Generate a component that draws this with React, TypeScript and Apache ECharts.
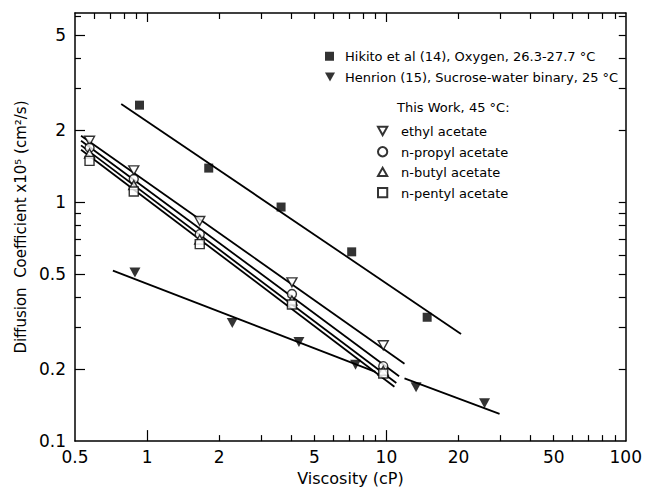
import React, { useEffect, useRef } from "react";
import * as echarts from "echarts";

// Axis ticks / labels
const xLabelValues = [0.5, 1, 2, 5, 10, 20, 50, 100];
const xBottomMinorTicks = [2, 3, 4, 5, 6, 7, 8, 9, 20, 30, 40, 50, 60, 70, 80, 90];
const xTopMinorTicks = [0.6, 0.7, 0.8, 0.9, 2, 3, 4, 5, 6, 7, 8, 9, 20, 30, 40, 50, 60, 70, 80, 90];
const xMajorTicks = [1, 10];
const yLabelValues = [0.1, 0.2, 0.5, 1, 2, 5];
const yMinorTicks = [0.3, 0.4, 0.6, 0.7, 0.8, 0.9, 3, 4, 6];
const yMajorTicks = [0.2, 0.5, 1, 2, 5];
const yRightTicks = [0.2, 0.3, 0.4, 0.5, 0.6, 0.7, 0.8, 0.9, 1, 2, 3, 4, 5, 6];

// Hikito et al (14), Oxygen
const hikitoX = [0.93, 1.81, 3.63, 7.16, 14.8];
const hikitoY = [2.55, 1.39, 0.955, 0.62, 0.33];
const hikitoFitX = [0.78, 20.5];
const hikitoFitY = [2.58, 0.281];

// Henrion (15), Sucrose-water binary
const henrionX = [0.89, 2.27, 4.31, 7.43, 13.3, 25.7];
const henrionY = [0.508, 0.312, 0.26, 0.209, 0.168, 0.144];
const henrionFit1X = [0.72, 9.0];
const henrionFit1Y = [0.517, 0.195];
const henrionFit2X = [11.9, 29.7];
const henrionFit2Y = [0.183, 0.13];

// This work, 45 °C
const acetateX = [0.575, 0.88, 1.66, 4.03, 9.7];
const ethylY = [1.81, 1.36, 0.835, 0.462, 0.252];
const propylY = [1.69, 1.25, 0.735, 0.413, 0.206];
const butylY = [1.6, 1.18, 0.698, 0.388, 0.197];
const pentylY = [1.49, 1.11, 0.668, 0.373, 0.192];
const ethylFitX = [0.53, 11.9];
const ethylFitY = [1.9, 0.211];
const propylFitX = [0.53, 11.3];
const propylFitY = [1.81, 0.187];
const butylFitX = [0.53, 11.0];
const butylFitY = [1.73, 0.175];
const pentylFitX = [0.53, 10.8];
const pentylFitY = [1.66, 0.169];

const NAMES = {
  hikito: "Hikito et al (14), Oxygen, 26.3-27.7 °C",
  henrion: "Henrion (15), Sucrose-water binary, 25 °C",
  ethyl: "ethyl acetate",
  propyl: "n-propyl acetate",
  butyl: "n-butyl acetate",
  pentyl: "n-pentyl acetate",
};

const DOWN_TRI = "path://M0,0L10,0L5,9Z";
const FONT = "DejaVu Sans";

const X_MIN = 0.5;
const X_MAX = 100;
const Y_MIN = 0.1;
const Y_MAX = 6.2;

const zip = (xs: number[], ys: number[]) => xs.map((x, i) => [x, ys[i]]);
const lg = (vs: number[]) => vs.map((v) => Math.log10(v));

export default function App() {
  const ref = useRef<HTMLDivElement>(null);
  useEffect(() => {
    if (!ref.current) return;
    const chart = echarts.init(ref.current, undefined, { renderer: "svg" });
    const lineSeries = (xs: number[], ys: number[]) => ({
      type: "line",
      data: zip(xs, ys),
      symbol: "none",
      lineStyle: { color: "#000", width: 1.8 },
      silent: true,
      z: 2,
    });
    const open = { color: "#fff", borderColor: "#000", borderWidth: 1.4 };
    const filled = { color: "#000", borderColor: "#000", borderWidth: 0 };
    const scatter = (name: string, xs: number[], ys: number[], symbol: string, size: any, style: any) => ({
      type: "scatter",
      name,
      data: zip(xs, ys),
      symbol,
      symbolSize: size,
      itemStyle: style,
      z: 3,
    });
    const tickStyle = { color: "#000", width: 1.2 };
    const lineStyle = { color: "#000", width: 1.5 };
    // overlay value axes in log10 space used only for tick marks
    const tickX = (position: string, values: number[], length: number, line: boolean) => ({
      type: "value",
      min: Math.log10(X_MIN),
      max: Math.log10(X_MAX),
      position,
      splitLine: { show: false },
      axisLine: { show: line, onZero: false, lineStyle },
      axisTick: { show: true, inside: true, length, customValues: lg(values), lineStyle: tickStyle },
      axisLabel: { show: false },
    });
    const tickY = (position: string, values: number[], length: number, line: boolean) => ({
      type: "value",
      min: Math.log10(Y_MIN),
      max: Math.log10(Y_MAX),
      position,
      splitLine: { show: false },
      axisLine: { show: line, onZero: false, lineStyle },
      axisTick: { show: true, inside: true, length, customValues: lg(values), lineStyle: tickStyle },
      axisLabel: { show: false },
    });
    const legendIcon = (shape: string, w: number) => `path://${shape} M${w},10`;
    const option: any = {
      animation: false,
      grid: { left: 75, right: 16, top: 13, bottom: 43, containLabel: false },
      xAxis: [
        {
          type: "log",
          min: X_MIN,
          max: X_MAX,
          position: "bottom",
          splitLine: { show: false },
          name: "Viscosity (cP)",
          nameLocation: "middle",
          nameGap: 22,
          nameTextStyle: { fontFamily: FONT, fontSize: 16, color: "#000" },
          axisLine: { show: true, onZero: false, lineStyle },
          axisTick: { show: false },
          axisLabel: { show: true, customValues: xLabelValues, color: "#000", fontFamily: FONT, fontSize: 17, margin: 7, formatter: (v: number) => String(v) },
        },
        tickX("bottom", xBottomMinorTicks, 6, false),
        tickX("bottom", xMajorTicks, 11, false),
        tickX("top", xTopMinorTicks, 6, true),
        tickX("top", xMajorTicks, 9, false),
      ],
      yAxis: [
        {
          type: "log",
          min: Y_MIN,
          max: Y_MAX,
          position: "left",
          splitLine: { show: false },
          name: "Diffusion  Coefficient x10⁵ (cm²/s)",
          nameLocation: "middle",
          nameGap: 37,
          nameTextStyle: { fontFamily: FONT, fontSize: 15, color: "#000" },
          axisLine: { show: true, onZero: false, lineStyle },
          axisTick: { show: false },
          axisLabel: { show: true, customValues: yLabelValues, color: "#000", fontFamily: FONT, fontSize: 17, margin: 9, formatter: (v: number) => String(v) },
        },
        tickY("left", yMinorTicks, 6, false),
        tickY("left", yMajorTicks, 10, false),
        tickY("right", yRightTicks, 7, true),
      ],
      legend: [
        {
          orient: "vertical",
          left: 325,
          top: 50,
          padding: 0,
          itemGap: 8,
          itemWidth: 15,
          itemHeight: 10,
          selectedMode: false,
          textStyle: { fontFamily: FONT, fontSize: 13, color: "#000" },
          data: [
            { name: NAMES.hikito, icon: legendIcon("M0,0.5H9V9.5H0Z", 15) },
            { name: NAMES.henrion, icon: legendIcon("M0,0L10,0L5,9Z", 15) },
          ],
        },
        {
          orient: "vertical",
          left: 377,
          top: 125,
          padding: 0,
          itemGap: 7.5,
          itemWidth: 18,
          itemHeight: 10,
          selectedMode: false,
          textStyle: { fontFamily: FONT, fontSize: 13, color: "#000" },
          data: [
            { name: NAMES.ethyl, icon: legendIcon("M0.5,1L9.5,1L5,9Z", 18) },
            { name: NAMES.propyl, icon: legendIcon("M0.5,5A4.5,4.5 0 1 1 9.5,5A4.5,4.5 0 1 1 0.5,5Z", 18) },
            { name: NAMES.butyl, icon: legendIcon("M0.5,9L9.5,9L5,1Z", 18) },
            { name: NAMES.pentyl, icon: legendIcon("M0.5,0.5H9.5V9.5H0.5Z", 18) },
          ],
        },
      ],
      graphic: [
        {
          type: "text",
          left: 397,
          top: 101,
          style: { text: "This Work, 45 °C:", fontFamily: FONT, fontSize: 13, fill: "#000" },
        },
      ],
      series: [
        lineSeries(hikitoFitX, hikitoFitY),
        lineSeries(henrionFit1X, henrionFit1Y),
        lineSeries(henrionFit2X, henrionFit2Y),
        lineSeries(ethylFitX, ethylFitY),
        lineSeries(propylFitX, propylFitY),
        lineSeries(butylFitX, butylFitY),
        lineSeries(pentylFitX, pentylFitY),
        scatter(NAMES.hikito, hikitoX, hikitoY, "rect", 9, filled),
        scatter(NAMES.henrion, henrionX, henrionY, DOWN_TRI, [11, 10], filled),
        scatter(NAMES.ethyl, acetateX, ethylY, DOWN_TRI, [10, 9], open),
        scatter(NAMES.propyl, acetateX, propylY, "circle", 9, open),
        scatter(NAMES.butyl, acetateX, butylY, "triangle", [10, 9], open),
        scatter(NAMES.pentyl, acetateX, pentylY, "rect", 9, open),
      ],
    };
    chart.setOption(option);
    return () => chart.dispose();
  }, []);
  return <div ref={ref} style={{ width: 645, height: 491, position: "absolute", left: 0, top: 0 }} />;
}
